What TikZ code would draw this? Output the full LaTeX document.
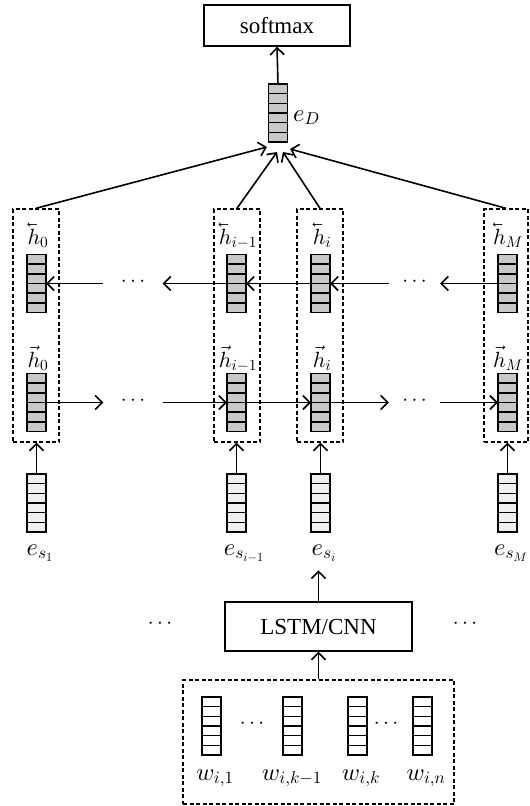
\documentclass[tikz,border=0pt]{standalone}
\usepackage[no-math]{fontspec}
\setmainfont{Liberation Serif}
\usetikzlibrary{arrows.meta,calc}

% scalable Computer Modern math fonts for the large labels
\DeclareFontShape{OML}{cmm}{m}{it}{<->cmmi10}{}
\DeclareFontShape{OMS}{cmsy}{m}{n}{<->cmsy10}{}
\DeclareFontShape{OT1}{cmr}{m}{n}{<->cmr10}{}

\definecolor{hidfill}{HTML}{C8C8C8}
\definecolor{embfill}{HTML}{EFEFEF}

% backward-direction vector accent (mirrored \vec)
\newcommand\lvec[1]{\reflectbox{$\vec{\reflectbox{$#1$}}$}}

\tikzset{
  cellvec/.style={draw, line width=1.7pt, minimum width=19pt, minimum height=58pt,
    inner sep=0pt, outer sep=0pt,
    path picture={\foreach \k in {1,...,5}{
      \draw[line width=1.6pt]
        ($(path picture bounding box.north west)!\k/6!(path picture bounding box.south west)$) --
        ($(path picture bounding box.north east)!\k/6!(path picture bounding box.south east)$);}}},
  hidvec/.style={cellvec, fill=hidfill},
  embvec/.style={cellvec, fill=embfill},
  wordvec/.style={cellvec, fill=white},
  grpbox/.style={draw, dash pattern=on 4pt off 2.5pt, line width=1.4pt, inner sep=0pt},
  blockbox/.style={draw, line width=1.4pt, inner sep=0pt, font=\fontsize{23}{27}\selectfont},
  lbl/.style={inner sep=0pt, anchor=base, font=\fontsize{22}{26}\selectfont},
  elbl/.style={inner sep=0pt, anchor=base, font=\fontsize{24.5}{28}\selectfont},
  dotlbl/.style={inner sep=0pt, anchor=base, font=\fontsize{21}{25}\selectfont},
  conn/.style={line width=1.6pt, -{Straight Barb[length=7pt,width=14pt,line width=1.6pt]}},
}

\begin{document}
\begin{tikzpicture}[x=1pt,y=-1pt]
\useasboundingbox (0,0) rectangle (530,806);

% output layer
\node[blockbox, minimum width=146pt, minimum height=41pt] (soft) at (277,25.5) {softmax};
\node[hidvec] (eD) at (278,113) {};
\node[elbl, anchor=base west] (eDl) at (293,121) {$e_D$};
\draw[conn] (eD.north) -- (soft.south);

% sentence-level BiLSTM columns
\node[grpbox, minimum width=46pt, minimum height=233pt] (g0) at (36,325.5) {};
\node[grpbox, minimum width=46pt, minimum height=233pt] (g1) at (237,325.5) {};
\node[grpbox, minimum width=46pt, minimum height=233pt] (g2) at (320,325.5) {};
\node[grpbox, minimum width=44pt, minimum height=233pt] (g3) at (506,325.5) {};

\node[hidvec] (b0) at (36.5,283.5) {};
\node[hidvec] (b1) at (236.5,283.5) {};
\node[hidvec] (b2) at (320.5,283.5) {};
\node[hidvec] (b3) at (507.5,283.5) {};
\node[hidvec] (f0) at (36.5,402.5) {};
\node[hidvec] (f1) at (236.5,402.5) {};
\node[hidvec] (f2) at (320.5,402.5) {};
\node[hidvec] (f3) at (507.5,402.5) {};

\node[lbl] (bl0) at (38,244) {$\lvec{h}_0$};
\node[lbl] (bl1) at (238,244) {$\lvec{h}_{i-1}$};
\node[lbl] (bl2) at (322,244) {$\lvec{h}_i$};
\node[lbl] (bl3) at (508,244) {$\lvec{h}_M$};
\node[lbl] (fl0) at (38,367) {$\vec{h}_0$};
\node[lbl] (fl1) at (238,367) {$\vec{h}_{i-1}$};
\node[lbl] (fl2) at (322,367) {$\vec{h}_i$};
\node[lbl] (fl3) at (508,367) {$\vec{h}_M$};

% ellipses between columns
\node[dotlbl, minimum width=59pt] (bdl) at (133,286.5) {$\cdots$};
\node[dotlbl, minimum width=51pt] (bdr) at (414.5,286.5) {$\cdots$};
\node[dotlbl, minimum width=59pt] (fdl) at (133,405.5) {$\cdots$};
\node[dotlbl, minimum width=51pt] (fdr) at (414.5,405.5) {$\cdots$};

% backward recurrence
\draw[conn] (b3.west) -- (bdr.east |- b3.west);
\draw[conn] (bdr.west |- b2.east) -- (b2.east);
\draw[conn] (b2.west) -- (b1.east);
\draw[conn] (b1.west) -- (bdl.east |- b1.west);
\draw[conn] (bdl.west |- b0.east) -- (b0.east);

% forward recurrence
\draw[conn] (f0.east) -- (fdl.west |- f0.east);
\draw[conn] (fdl.east |- f1.west) -- (f1.west);
\draw[conn] (f1.east) -- (f2.west);
\draw[conn] (f2.east) -- (fdr.west |- f2.east);
\draw[conn] (fdr.east |- f3.west) -- (f3.west);

% pooling into the document vector
\coordinate (t0) at (267,147);
\coordinate (t1) at (277,152);
\coordinate (t2) at (283,152);
\coordinate (t3) at (290,149);
\draw[conn] (g0.north) -- (t0);
\draw[conn] (g1.north) -- (t1);
\draw[conn] (g2.north) -- (t2);
\draw[conn] (g3.north) -- (t3);

% sentence embeddings
\node[embvec] (s0) at (36.5,503) {};
\node[embvec] (s1) at (236.5,503) {};
\node[embvec] (s2) at (320.5,503) {};
\node[embvec] (s3) at (507.5,503) {};
\node[elbl] (sl0) at (40,555) {$e_{s_1}$};
\node[elbl] (sl1) at (244,555) {$e_{s_{i-1}}$};
\node[elbl] (sl2) at (324,555) {$e_{s_i}$};
\node[elbl] (sl3) at (511,555) {$e_{s_M}$};
\draw[conn] (s0.north) -- (s0.north |- g0.south);
\draw[conn] (s1.north) -- (s1.north |- g1.south);
\draw[conn] (s2.north) -- (s2.north |- g2.south);
\draw[conn] (s3.north) -- (s3.north |- g3.south);

% sentence encoder
\node[blockbox, minimum width=187pt, minimum height=49pt] (lstm) at (318.5,626.5) {LSTM/CNN};
\node[dotlbl] (ldl) at (160,628.5) {$\cdots$};
\node[dotlbl] (ldr) at (465,628.5) {$\cdots$};
\draw[conn, shorten >=9pt] (lstm.north) -- (lstm.north |- sl2.south);

% word embeddings
\node[grpbox, minimum width=271pt, minimum height=124pt] (wbox) at (318.5,742) {};
\draw[conn] (wbox.north) -- (lstm.south);
\node[wordvec] (w1) at (211.5,726) {};
\node[wordvec] (w2) at (292.5,726) {};
\node[wordvec] (w3) at (357.5,726) {};
\node[wordvec] (w4) at (422.5,726) {};
\node[dotlbl] (wd1) at (252,728.5) {$\cdots$};
\node[dotlbl] (wd2) at (386,728.5) {$\cdots$};
\node[elbl] (wl1) at (215,780) {$w_{i,1}$};
\node[elbl] (wl2) at (292,780) {$w_{i,k-1}$};
\node[elbl] (wl3) at (361,780) {$w_{i,k}$};
\node[elbl] (wl4) at (426,780) {$w_{i,n}$};
\end{tikzpicture}
\end{document}
